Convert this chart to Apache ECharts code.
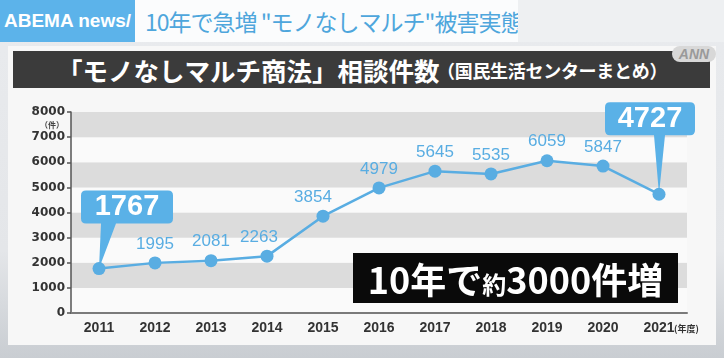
<!DOCTYPE html>
<html>
<head>
<meta charset="utf-8">
<script src="https://cdn.jsdelivr.net/npm/echarts@6/dist/echarts.min.js"></script>
<style>
  html, body { margin:0; padding:0; }
  body { width:724px; height:358px; position:relative; overflow:hidden;
         background: linear-gradient(180deg, #e9ebee 0%, #e4e6e9 70%, #c9cdd2 100%);
         font-family: "Noto Sans CJK JP", "Liberation Sans", sans-serif; }
  #hdrBlue { position:absolute; left:0; top:0; width:135px; height:42px; background:#5cb3ea;
             color:#fff; font-family:"Liberation Sans", Arial, sans-serif; font-weight:bold; font-size:19px;
             line-height:42px; text-align:center; white-space:nowrap; overflow:hidden; }
  #hdrWhite { position:absolute; left:135px; top:0; width:383px; height:42px; background:#fbfcfd;
              color:#4ea6dc; font-size:23px; line-height:42px; padding-left:10px; box-sizing:border-box;
              letter-spacing:-1px; white-space:nowrap; }
  #hdrRight { position:absolute; left:518px; top:0; width:206px; height:42px; background:#eef0f2; }
  #panel { position:absolute; left:8px; top:46px; width:708px; height:299px; background:#f7f7f7; }
  #titleBar { position:absolute; left:13px; top:51px; width:697px; height:37px; background:#3b3b3b;
              color:#fff; white-space:nowrap; }
  #titleMain { position:absolute; left:44px; top:0; font-size:25.5px; font-weight:bold; line-height:37px; }
  #titleSub { position:absolute; left:424px; top:1px; font-size:18px; font-weight:bold; line-height:37px; letter-spacing:-0.3px; }
  #ann { position:absolute; left:672px; top:46px; width:44px; height:16px; border-radius:8px; background:#d8d8d8;
         color:#9a9a9a; font-family:"Liberation Sans", Arial, sans-serif; font-weight:bold; font-style:italic;
         font-size:14px; line-height:16px; text-align:center; }
  #chart { position:absolute; left:0; top:0; width:724px; height:358px; }
  #bigBox { position:absolute; left:353px; top:253px; width:325px; height:50px; background:#0a0a0a; color:#fff;
            white-space:nowrap; text-align:center; line-height:50px; font-size:36px; font-weight:bold; z-index:5; }
  #bigBox .s { font-size:24px; }
  #unitY { position:absolute; left:40px; top:119px; font-size:8px; color:#444; font-weight:bold; z-index:5; }
  #unitX { position:absolute; left:674px; top:322px; font-size:9px; color:#333; font-weight:bold; z-index:5; }
</style>
</head>
<body>
<div id="hdrBlue">ABEMA news/</div>
<div id="hdrWhite">10年で急増 "モノなしマルチ"被害実態</div>
<div id="hdrRight"></div>
<div id="panel"></div>
<div id="titleBar"><span id="titleMain">「モノなしマルチ商法」相談件数</span><span id="titleSub">（国民生活センターまとめ）</span></div>
<div id="ann">ANN</div>
<div id="chart"></div>
<div id="bigBox">10年で<span class="s">約</span>3000件増</div>
<div id="unitY">（件）</div>
<div id="unitX">(年度)</div>
<script>
// ---- data ----
const years = ['2011','2012','2013','2014','2015','2016','2017','2018','2019','2020','2021'];
const counts = [1767, 1995, 2081, 2263, 3854, 4979, 5645, 5535, 6059, 5847, 4727];
const yTicks = [0, 1000, 2000, 3000, 4000, 5000, 6000, 7000, 8000];
const calloutIdx = [0, 10];

// ---- style ----
const BLUE = '#59ade2';
const BOX = '#5ab1e7';
const labelShift = { 3: [-8, 0], 4: [-10, 0] };

const seriesData = counts.map((v, i) => ({
  value: v,
  label: calloutIdx.includes(i) ? { show: false } : { show: true, offset: labelShift[i] || [0, 0] }
}));

const pathLeft = 'path://M5 0 H87 Q92 0 92 5 V28 Q92 33 87 33 H35 L18 78 L20 33 H5 Q0 33 0 28 V5 Q0 0 5 0 Z';
const pathRight = 'path://M5 0 H85 Q90 0 90 5 V28 Q90 33 85 33 H60 L54 92 L49 33 H5 Q0 33 0 28 V5 Q0 0 5 0 Z';

const chart = echarts.init(document.getElementById('chart'), null, { renderer: 'canvas' });
chart.setOption({
  backgroundColor: 'transparent',
  animation: false,
  grid: { left: 71, right: 37, top: 112, bottom: 45, containLabel: false },
  xAxis: {
    type: 'category',
    data: years,
    boundaryGap: true,
    axisLine: { show: true, lineStyle: { color: '#7a7a7a', width: 2 } },
    axisTick: { show: false },
    axisLabel: { color: '#333', fontSize: 14, fontWeight: 'bold', fontFamily: 'Liberation Sans, Arial', margin: 8 },
    splitLine: { show: false }
  },
  yAxis: {
    type: 'value',
    min: yTicks[0],
    max: yTicks[yTicks.length - 1],
    interval: yTicks[1] - yTicks[0],
    axisLine: { show: true, lineStyle: { color: '#555', width: 1.5 } },
    axisTick: { show: true, length: 4, lineStyle: { color: '#555', width: 1.5 } },
    axisLabel: { color: '#333', fontSize: 12, fontWeight: 'bold', fontFamily: 'DejaVu Sans', margin: 6,
                 formatter: v => String(v) },
    splitLine: { show: false },
    splitArea: { show: true, areaStyle: { color: ['rgba(250,250,250,0.9)', '#dcdcdc'] } }
  },
  series: [{
    type: 'line',
    data: seriesData,
    symbol: 'circle',
    symbolSize: 13,
    itemStyle: { color: BLUE },
    lineStyle: { color: BLUE, width: 2.5 },
    label: {
      show: true, position: 'top', distance: 4,
      color: BLUE, fontSize: 17, fontFamily: 'Liberation Sans, Arial'
    },
    z: 3,
    markPoint: {
      z: 2,
      data: [
        {
          coord: [years[calloutIdx[0]], counts[calloutIdx[0]]],
          value: counts[calloutIdx[0]],
          symbol: pathLeft,
          symbolSize: [92, 78],
          symbolOffset: [28, -39],
          itemStyle: { color: BOX },
          label: { show: true, position: 'inside', offset: [0, -22.5], color: '#fff', fontSize: 29, fontWeight: 'bold', fontFamily: 'Liberation Sans, Arial' }
        },
        {
          coord: [years[calloutIdx[1]], counts[calloutIdx[1]]],
          value: counts[calloutIdx[1]],
          symbol: pathRight,
          symbolSize: [90, 92],
          symbolOffset: [-9, -46],
          itemStyle: { color: BOX },
          label: { show: true, position: 'inside', offset: [0, -29.5], color: '#fff', fontSize: 29, fontWeight: 'bold', fontFamily: 'Liberation Sans, Arial' }
        }
      ]
    }
  }]
});
</script>
</body>
</html>
